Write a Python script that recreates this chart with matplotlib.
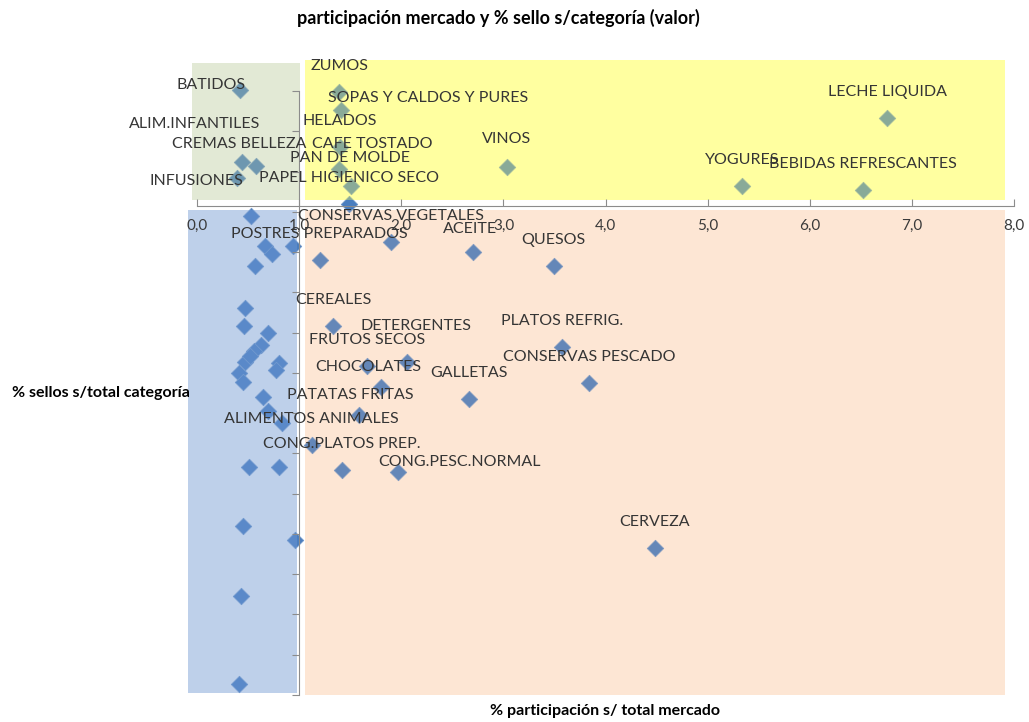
import matplotlib.pyplot as plt
from matplotlib.patches import Rectangle

plt.rcParams['font.family'] = ['Lato', 'DejaVu Sans']

# categoria, % participacion s/ total mercado, % sellos s/ total categoria
categorias = [
    'BATIDOS', 'ZUMOS', 'SOPAS Y CALDOS Y PURES', 'HELADOS', 'CAFE TOSTADO',
    'PAN DE MOLDE', 'PAPEL HIGIENICO SECO', 'ALIM.INFANTILES', 'CREMAS BELLEZA',
    'INFUSIONES', 'VINOS', 'LECHE LIQUIDA', 'YOGURES', 'BEBIDAS REFRESCANTES',
    'CONSERVAS VEGETALES', 'POSTRES PREPARADOS', 'ACEITE', 'QUESOS', 'CEREALES',
    'DETERGENTES', 'FRUTOS SECOS', 'PLATOS REFRIG.', 'CONSERVAS PESCADO',
    'CHOCOLATES', 'GALLETAS', 'PATATAS FRITAS', 'ALIMENTOS ANIMALES',
    'CONG.PLATOS PREP.', 'CONG.PESC.NORMAL', 'CERVEZA',
    '', '', '', '', '', '', '', '', '', '', '', '', '', '', '', '', '', '', '',
    '', '', '', '', '', '',
]
participacion = [
    0.42, 1.39, 1.41, 1.40, 1.39, 1.51, 1.49, 0.44, 0.58, 0.39,
    3.03, 6.76, 5.34, 6.52, 1.90, 1.20, 2.70, 3.49, 1.33, 2.05,
    1.66, 3.57, 3.84, 1.80, 2.66, 1.58, 1.12, 1.42, 1.97, 4.48,
    0.53, 0.66, 0.73, 0.94, 0.57, 0.47, 0.46, 0.69, 0.62, 0.56,
    0.47, 0.41, 0.45, 0.80, 0.77, 0.64, 0.69, 0.83, 0.51, 0.80,
    0.45, 0.96, 0.43, 0.41, 0.52,
]
sellos = [
    75.1, 74.9, 72.6, 68.0, 65.3, 63.2, 61.0, 66.2, 65.7, 64.2,
    65.6, 71.7, 63.2, 62.7, 56.2, 54.0, 55.0, 53.3, 45.8, 41.3,
    40.8, 43.2, 38.7, 38.2, 36.8, 34.8, 31.1, 27.9, 27.7, 18.3,
    59.5, 55.7, 54.8, 55.7, 53.3, 48.1, 45.8, 44.9, 43.5, 42.7,
    41.3, 40.0, 38.9, 41.2, 40.3, 37.0, 35.3, 33.8, 28.3, 28.3,
    21.0, 19.2, 12.3, 1.4, 42.1,
]
x_ticks = [0, 1, 2, 3, 4, 5, 6, 7, 8]
x_cruce_y = 60.7   # donde corta el eje horizontal
y_cruce_x = 1.0    # donde corta el eje vertical

# etiquetas movidas a mano (desplazamiento en pixeles); resto encima del punto
default_off = (0, 26)
moved = {
    'BATIDOS': (-29, 5), 'SOPAS Y CALDOS Y PURES': (87, 12),
    'CAFE TOSTADO': (33, 25), 'ALIM.INFANTILES': (-48, 38),
    'CREMAS BELLEZA': (-17, 22), 'INFUSIONES': (-41, -3),
    'DETERGENTES': (9, 36), 'CHOCOLATES': (-13, 20),
    'PATATAS FRITAS': (-8, 20), 'CONG.PESC.NORMAL': (61, 10),
    'ACEITE': (-3, 23), 'PAN DE MOLDE': (-1, 28), 'VINOS': (0, 28),
}

fig = plt.figure(figsize=(10.29, 7.22), dpi=100)
ax = fig.add_axes([197.2 / 1029, 1 - 695 / 722, 816.8 / 1029, 604 / 722])
ax.set_xlim(0, 8)
ax.set_ylim(0, 75)
ax.patch.set_visible(False)

# cuadrantes de fondo: capa clara debajo y velo semitransparente encima de los puntos
zonas = [
    ((-0.05, 61.5), 1.06, 17.0, '#fbfcf8', '#b4c896', 0.35),
    ((1.06, 61.5), 6.85, 17.3, '#ffffcb', '#ffff50', 0.35),
    ((-0.09, 0.25), 1.07, 59.95, '#e4eaf3', '#78a0dc', 0.35),
    ((1.06, 0.0), 6.85, 60.2, '#feeddf', '#fabe96', 0.15),
]
for xy, w, h, fc, vc, a in zonas:
    ax.add_patch(Rectangle(xy, w, h, facecolor=fc, edgecolor='none',
                           zorder=0, clip_on=False))
    ax.add_patch(Rectangle(xy, w, h, facecolor=vc, edgecolor='none', alpha=a,
                           zorder=3, clip_on=False))

ax.scatter(participacion, sellos, marker='D', s=70, color='#4a7ebf',
           edgecolors='#6f96c8', linewidths=0.6, zorder=2, clip_on=False)

for nom, x, y in zip(categorias, participacion, sellos):
    if not nom:
        continue
    dx, dy = moved.get(nom, default_off)
    ax.annotate(nom, (x, y), xytext=(dx, dy), textcoords='offset pixels',
                ha='center', va='center', fontsize=11.5, color='#353535',
                zorder=5, annotation_clip=False)

for s in ['top', 'right']:
    ax.spines[s].set_visible(False)
ax.spines['bottom'].set_position(('data', x_cruce_y))
ax.spines['left'].set_position(('data', y_cruce_x))
for s in ['bottom', 'left']:
    ax.spines[s].set_color('#8c8c8c')
    ax.spines[s].set_zorder(4)
ax.xaxis.set_zorder(4)
ax.yaxis.set_zorder(4)

ax.set_xticks(x_ticks)
ax.set_xticklabels([f'{v:.1f}'.replace('.', ',') for v in x_ticks])
ax.tick_params(axis='x', direction='in', length=5, color='#8c8c8c', pad=9,
               labelsize=11, labelcolor='#3a3a3a')
ax.set_yticks(range(0, 76, 5))
ax.tick_params(axis='y', direction='out', length=5, color='#8c8c8c',
               labelleft=False)

fig.text(498 / 1029, 1 - 18 / 722, 'participación mercado y % sello s/categoría (valor)',
         ha='center', va='center', fontsize=13, fontweight='bold')
fig.text(12 / 1029, 1 - 393 / 722, '% sellos s/total categoría',
         ha='left', va='center', fontsize=11.5, fontweight='bold')
fig.text(605 / 1029, 1 - 711 / 722, '% participación s/ total mercado',
         ha='center', va='center', fontsize=11.5, fontweight='bold')

fig.savefig('out.png', dpi=100)
